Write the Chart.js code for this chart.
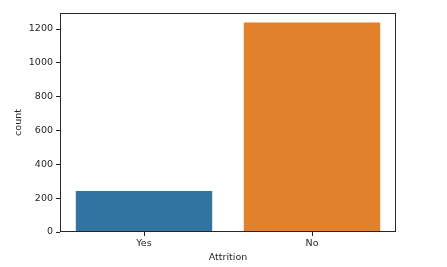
<!DOCTYPE html>
<html>
<head>
<meta charset="utf-8">
<script src="https://cdn.jsdelivr.net/npm/chart.js@4"></script>
<style>
  html, body { margin: 0; padding: 0; background: #fff; }
  canvas { display: block; }
</style>
</head>
<body>
<canvas id="grafico" width="447" height="267"></canvas>
<script>
// dados
const categorias = ['Yes', 'No'];
const contagens = [237, 1233];
const cores = ['#3274a1', '#e1812c'];
const yMax = 1233 * 1.05;

// moldura em volta da area do grafico
const moldura = {
    id: 'moldura',
    afterDraw(chart) {
        const a = chart.chartArea;
        const ctx = chart.ctx;
        ctx.save();
        ctx.strokeStyle = '#262626';
        ctx.lineWidth = 1;
        ctx.strokeRect(Math.round(a.left) + 0.5, Math.round(a.top) + 0.5,
            Math.round(a.right - a.left) - 1, Math.round(a.bottom - a.top) - 1);
        ctx.restore();
    }
};

const fonte = { family: 'DejaVu Sans', size: 9.5 };

new Chart(document.getElementById('grafico').getContext('2d'), {
    type: 'bar',
    data: {
        labels: categorias,
        datasets: [{
            label: 'count',
            data: contagens,
            backgroundColor: cores,
            borderWidth: 0,
            inflateAmount: 1,
            categoryPercentage: 0.8,
            barPercentage: 1.0
        }]
    },
    options: {
        responsive: false,
        animation: false,
        layout: { padding: { top: 13, right: 51, left: 0, bottom: 0 } },
        plugins: {
            legend: { display: false },
            tooltip: { enabled: false }
        },
        scales: {
            x: {
                afterFit(scale) { scale.height = 35; },
                grid: { display: true, drawOnChartArea: false, offset: false, tickLength: 4, color: '#262626' },
                border: { display: false },
                ticks: { color: '#262626', font: fonte, padding: 2, maxRotation: 0 },
                title: { display: true, text: 'Attrition', color: '#262626', font: fonte, padding: { top: 0, bottom: 4 } }
            },
            y: {
                min: 0,
                max: yMax,
                afterFit(scale) { scale.width = 60; },
                grid: { display: true, drawOnChartArea: false, tickLength: 4, color: '#262626' },
                border: { display: false },
                ticks: {
                    stepSize: 200, includeBounds: false, color: '#262626', font: fonte, padding: 3,
                    callback: v => String(v)
                },
                title: { display: true, text: 'count', color: '#262626', font: fonte, padding: { top: 13, bottom: 0 } }
            }
        }
    },
    plugins: [moldura]
});
</script>
</body>
</html>
